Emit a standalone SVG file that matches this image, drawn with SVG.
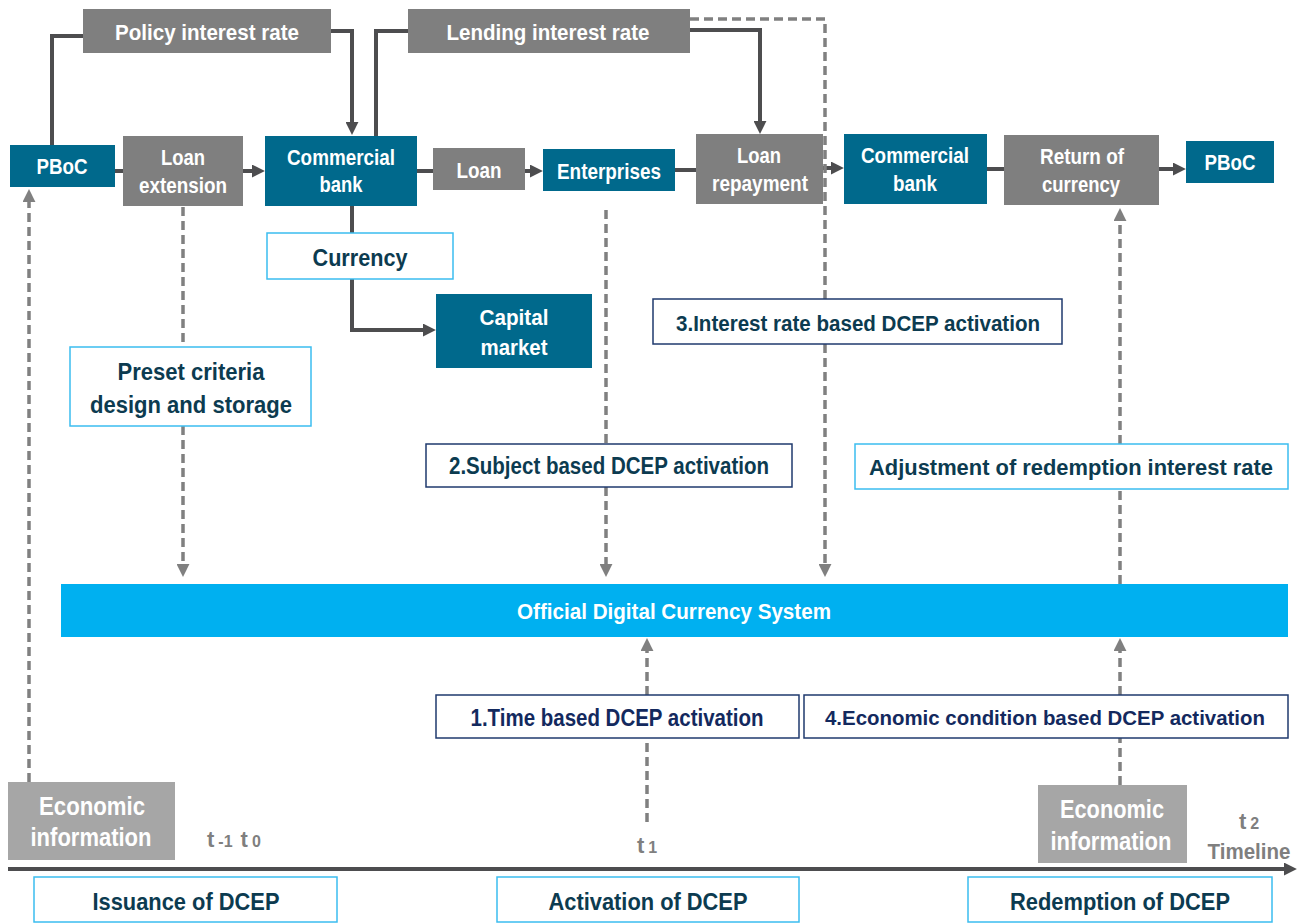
<svg xmlns="http://www.w3.org/2000/svg" width="1302" height="923" viewBox="0 0 1302 923">
<style>
text{font-family:"Liberation Sans",Arial,sans-serif;font-weight:bold;text-anchor:middle}
.teal{fill:#00698C}
.gray{fill:#7F7F7F}
.econ{fill:#A6A6A6}
.wt{fill:#FFFFFF;font-size:22px}
.wt2{fill:#FFFFFF;font-size:25px}
.lb{fill:#FFFFFF;stroke:#3BBDF0;stroke-width:1.5}
.nb{fill:#FFFFFF;stroke:#1F3A6E;stroke-width:1.5}
.tt{fill:#0C3B50;font-size:24px}
.tn{fill:#13295E;font-size:23px}
.solid{fill:none;stroke:#4D4D4F;stroke-width:4}
.dash{fill:none;stroke:#808080;stroke-width:3.5;stroke-dasharray:9 5}
.tl{fill:#7F7F7F;font-size:22px}
</style>
<defs>
<marker id="aS" viewBox="0 0 10 10" refX="7" refY="5" markerWidth="13" markerHeight="13" markerUnits="userSpaceOnUse" orient="auto"><path d="M0,0 L10,5 L0,10 z" fill="#4D4D4F"/></marker>
<marker id="aD" viewBox="0 0 10 10" refX="7" refY="5" markerWidth="13" markerHeight="13" markerUnits="userSpaceOnUse" orient="auto"><path d="M0,0 L10,5 L0,10 z" fill="#808080"/></marker>
</defs>
<rect width="1302" height="923" fill="#FFFFFF"/>
<g id="connectors">
<path class="solid" d="M52,145 V36 H83"/>
<path class="solid" d="M331,31 H352 V131" marker-end="url(#aS)"/>
<path class="solid" d="M376,136 V31 H408"/>
<path class="solid" d="M690,30 H760 V130" marker-end="url(#aS)"/>
<path class="solid" d="M115,171 H123"/>
<path class="solid" d="M243,171 H261" marker-end="url(#aS)"/>
<path class="solid" d="M417,171 H433"/>
<path class="solid" d="M525,171 H539" marker-end="url(#aS)"/>
<path class="solid" d="M675,170 H696"/>
<path class="solid" d="M823,168 H840" marker-end="url(#aS)"/>
<path class="solid" d="M987,169 H1004"/>
<path class="solid" d="M1159,169 H1182" marker-end="url(#aS)"/>
<path class="solid" d="M352,206 V233"/>
<path class="solid" d="M352,279 V330 H432" marker-end="url(#aS)"/>
<path class="solid" d="M8,869 H1293" stroke-width="3.5" marker-end="url(#aS)"/>
<path class="dash" d="M183,207 V347"/>
<path class="dash" d="M183,426 V573" marker-end="url(#aD)"/>
<path class="dash" d="M606,210 V444"/>
<path class="dash" d="M606,487 V573" marker-end="url(#aD)"/>
<path class="dash" d="M690,19 H825 V299"/>
<path class="dash" d="M825,344 V573" marker-end="url(#aD)"/>
<path class="dash" d="M29,782 V193" marker-end="url(#aD)"/>
<path class="dash" d="M1120,785 V738"/>
<path class="dash" d="M1120,695 V642" marker-end="url(#aD)"/>
<path class="dash" d="M1120,584 V489"/>
<path class="dash" d="M1120,444 V212" marker-end="url(#aD)"/>
<path class="dash" d="M647,822 V738"/>
<path class="dash" d="M647,695 V642" marker-end="url(#aD)"/>
</g>
<g id="policy-rate"><rect class="gray" x="83" y="9" width="248" height="44"/><text class="wt" x="207" y="40" textLength="184" lengthAdjust="spacingAndGlyphs">Policy interest rate</text></g>
<g id="lending-rate"><rect class="gray" x="408" y="9" width="282" height="44"/><text class="wt" x="548" y="40" textLength="203" lengthAdjust="spacingAndGlyphs">Lending interest rate</text></g>
<g id="pboc1"><rect class="teal" x="10" y="145" width="105" height="42"/><text class="wt" x="62" y="174" textLength="51" lengthAdjust="spacingAndGlyphs">PBoC</text></g>
<g id="loan-extension"><rect class="gray" x="123" y="136" width="120" height="70"/><text class="wt" x="183" y="165" textLength="44" lengthAdjust="spacingAndGlyphs">Loan</text><text class="wt" x="183" y="193" textLength="88" lengthAdjust="spacingAndGlyphs">extension</text></g>
<g id="commercial-bank1"><rect class="teal" x="265" y="136" width="152" height="70"/><text class="wt" x="341" y="165" textLength="108" lengthAdjust="spacingAndGlyphs">Commercial</text><text class="wt" x="341" y="192" textLength="43" lengthAdjust="spacingAndGlyphs">bank</text></g>
<g id="loan"><rect class="gray" x="433" y="148" width="92" height="42"/><text class="wt" x="479" y="178" textLength="45" lengthAdjust="spacingAndGlyphs">Loan</text></g>
<g id="enterprises"><rect class="teal" x="543" y="149" width="132" height="42"/><text class="wt" x="609" y="179" textLength="104" lengthAdjust="spacingAndGlyphs">Enterprises</text></g>
<g id="loan-repayment"><rect class="gray" x="696" y="134" width="127" height="70"/><text class="wt" x="759" y="163" textLength="44" lengthAdjust="spacingAndGlyphs">Loan</text><text class="wt" x="760" y="191" textLength="96" lengthAdjust="spacingAndGlyphs">repayment</text></g>
<g id="commercial-bank2"><rect class="teal" x="844" y="134" width="143" height="70"/><text class="wt" x="915" y="163" textLength="108" lengthAdjust="spacingAndGlyphs">Commercial</text><text class="wt" x="915" y="191" textLength="44" lengthAdjust="spacingAndGlyphs">bank</text></g>
<g id="return-of-currency"><rect class="gray" x="1004" y="135" width="155" height="70"/><text class="wt" x="1082" y="164" textLength="84" lengthAdjust="spacingAndGlyphs">Return of</text><text class="wt" x="1081" y="192" textLength="78" lengthAdjust="spacingAndGlyphs">currency</text></g>
<g id="pboc2"><rect class="teal" x="1186" y="141" width="88" height="42"/><text class="wt" x="1230" y="170" textLength="51" lengthAdjust="spacingAndGlyphs">PBoC</text></g>
<g id="currency"><rect class="lb" x="267" y="233" width="186" height="46"/><text class="tt" x="360" y="266" textLength="95" lengthAdjust="spacingAndGlyphs">Currency</text></g>
<g id="capital-market"><rect class="teal" x="436" y="294" width="156" height="74"/><text class="wt" x="514" y="325" textLength="69" lengthAdjust="spacingAndGlyphs">Capital</text><text class="wt" x="514" y="355" textLength="67" lengthAdjust="spacingAndGlyphs">market</text></g>
<g id="preset-criteria"><rect class="lb" x="70" y="347" width="241" height="79"/><text class="tt" x="191" y="380" textLength="147" lengthAdjust="spacingAndGlyphs">Preset criteria</text><text class="tt" x="191" y="413" textLength="202" lengthAdjust="spacingAndGlyphs">design and storage</text></g>
<g id="interest-activation"><rect class="nb" x="653" y="299" width="409" height="45"/><text class="tt" x="858" y="331" style="font-size:22px" textLength="364" lengthAdjust="spacingAndGlyphs">3.Interest rate based DCEP activation</text></g>
<g id="subject-activation"><rect class="nb" x="426" y="444" width="366" height="43"/><text class="tt" x="609" y="474" style="font-size:23px" textLength="320" lengthAdjust="spacingAndGlyphs">2.Subject based DCEP activation</text></g>
<g id="adjustment"><rect class="lb" x="855" y="444" width="433" height="45"/><text class="tt" x="1071" y="475" style="font-size:22px" textLength="404" lengthAdjust="spacingAndGlyphs">Adjustment of redemption interest rate</text></g>
<g id="official-system"><rect x="61" y="584" width="1227" height="53" fill="#00B0F0"/><text class="wt" x="674" y="619" textLength="314" lengthAdjust="spacingAndGlyphs">Official Digital Currency System</text></g>
<g id="time-activation"><rect class="nb" x="436" y="695" width="363" height="43"/><text class="tn" x="617" y="726" textLength="293" lengthAdjust="spacingAndGlyphs">1.Time based DCEP activation</text></g>
<g id="economic-activation"><rect class="nb" x="804" y="695" width="484" height="43"/><text class="tn" x="1045" y="725" style="font-size:20.5px" textLength="440" lengthAdjust="spacingAndGlyphs">4.Economic condition based DCEP activation</text></g>
<g id="economic-info1"><rect class="econ" x="8" y="782" width="167" height="78"/><text class="wt2" x="92" y="815" textLength="106" lengthAdjust="spacingAndGlyphs">Economic</text><text class="wt2" x="91" y="846" textLength="121" lengthAdjust="spacingAndGlyphs">information</text></g>
<g id="economic-info2"><rect class="econ" x="1038" y="785" width="149" height="78"/><text class="wt2" x="1112" y="818" textLength="104" lengthAdjust="spacingAndGlyphs">Economic</text><text class="wt2" x="1111" y="850" textLength="121" lengthAdjust="spacingAndGlyphs">information</text></g>
<g id="issuance"><rect class="lb" x="34" y="877" width="303" height="45"/><text class="tt" x="186" y="910" textLength="187" lengthAdjust="spacingAndGlyphs">Issuance of DCEP</text></g>
<g id="activation"><rect class="lb" x="497" y="877" width="302" height="45"/><text class="tt" x="648" y="910" textLength="199" lengthAdjust="spacingAndGlyphs">Activation of DCEP</text></g>
<g id="redemption"><rect class="lb" x="968" y="877" width="304" height="45"/><text class="tt" x="1120" y="910" textLength="220" lengthAdjust="spacingAndGlyphs">Redemption of DCEP</text></g>
<g id="time-labels">
<text class="tl" x="207" y="847" style="text-anchor:start">t<tspan style="font-size:16px" dx="4">-1</tspan><tspan dx="8">t</tspan><tspan style="font-size:16px" dx="4">0</tspan></text>
<text class="tl" x="637" y="853" style="text-anchor:start">t<tspan style="font-size:16px" dx="4">1</tspan></text>
<text class="tl" x="1239" y="829" style="text-anchor:start">t<tspan style="font-size:16px" dx="4">2</tspan></text>
<text class="tl" x="1249" y="859" textLength="83" lengthAdjust="spacingAndGlyphs">Timeline</text>
</g>
</svg>
